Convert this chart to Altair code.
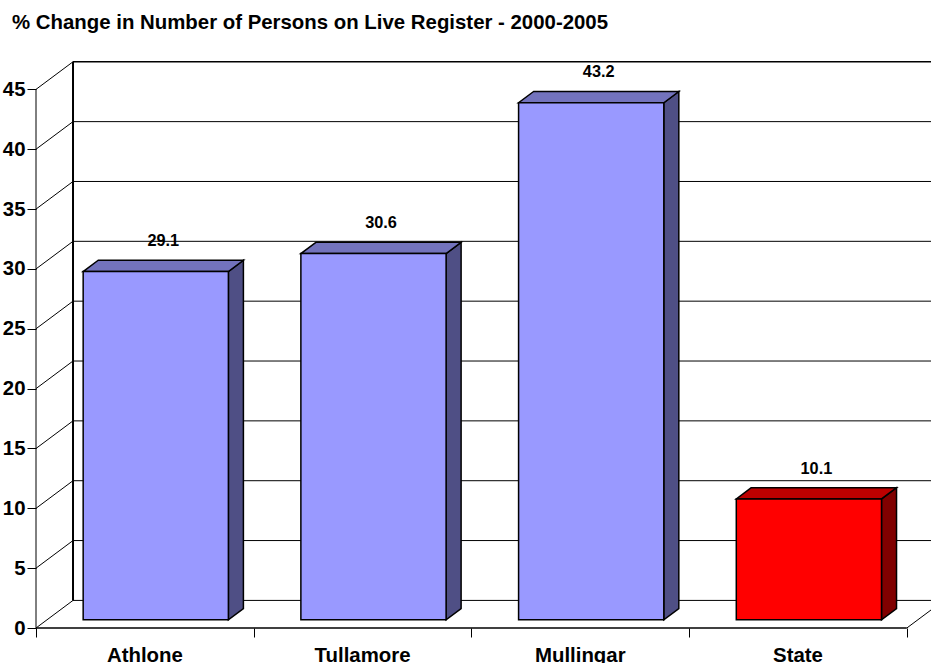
import altair as alt
import pandas as pd

# Chart values
categories = ["Athlone", "Tullamore", "Mullingar", "State"]
changes = [29.1, 30.6, 43.2, 10.1]
groups = ["Town", "Town", "Town", "State"]
y_ticks = [0, 5, 10, 15, 20, 25, 30, 35, 40, 45]
x_ticks = [0, 1, 2, 3, 4]
chart_title = "% Change in Number of Persons on Live Register - 2000-2005"

# Oblique projection of the box: depth expressed in axis units
WALL_DX, WALL_DY = 0.170, 2.305
BAR_DX, BAR_DY = 0.069, 0.944
LEAD = 0.295            # share of the floor depth in front of the bars
BAR_WIDTH = 0.667
X_MAX, Y_MAX = 4.111, 47.37
FONT = "Liberation Sans"

x_scale = alt.Scale(domain=[0, X_MAX], nice=False, zero=False)
y_scale = alt.Scale(domain=[0, Y_MAX], nice=False, zero=False)
x_axis = alt.Axis(values=x_ticks, labels=False, title=None, domain=False,
                  grid=False, tickSize=9, tickColor="black")
y_axis = alt.Axis(values=y_ticks, title=None, domain=False, grid=False,
                  tickSize=9, tickColor="black", labelPadding=2,
                  labelFont=FONT, labelFontWeight="bold", labelFontSize=20.4,
                  labelColor="black")


def X(field="x"):
    return alt.X(f"{field}:Q", scale=x_scale, stack=None, axis=x_axis)


def Y(field="y"):
    return alt.Y(f"{field}:Q", scale=y_scale, stack=None, axis=y_axis)


# Front edge of every bar, in axis units
bars = []
for i, (cat, val, grp) in enumerate(zip(categories, changes, groups)):
    x0 = i + LEAD * WALL_DX + (1 - BAR_WIDTH) / 2
    base = LEAD * WALL_DY
    bars.append(dict(cat=cat, grp=grp, val=val, x0=x0, x1=x0 + BAR_WIDTH,
                     base=base, top=base + val))

front = pd.DataFrame(bars)

side_rows, top_rows = [], []
for b in bars:
    side_rows += [
        dict(cat=b["cat"], grp=b["grp"], x=b["x1"], y=b["top"], y2=b["base"]),
        dict(cat=b["cat"], grp=b["grp"], x=b["x1"] + BAR_DX,
             y=b["top"] + BAR_DY, y2=b["base"] + BAR_DY),
    ]
    top_rows += [
        dict(cat=b["cat"], grp=b["grp"], y=b["top"], x=b["x0"], x2=b["x1"]),
        dict(cat=b["cat"], grp=b["grp"], y=b["top"] + BAR_DY,
             x=b["x0"] + BAR_DX, x2=b["x1"] + BAR_DX),
    ]
side = pd.DataFrame(side_rows)
top = pd.DataFrame(top_rows)

labels = front.assign(
    lx=front["x0"] + BAR_WIDTH / 2 + BAR_DX / 2,
    ly=front["top"] + BAR_DY,
)
names = pd.DataFrame({"cat": categories,
                      "x": [i + 0.5 for i in range(len(categories))],
                      "y": [0] * len(categories)})

ticks = pd.DataFrame({"y": y_ticks})
grid = ticks.assign(y=ticks["y"] + WALL_DY, x=WALL_DX, x2=X_MAX)
wall_links = ticks.assign(x=0, x2=WALL_DX, y2=ticks["y"] + WALL_DY)

# Back wall and floor
grid_lines = alt.Chart(grid[grid["y"] < y_ticks[-1]]).mark_rule(
    color="black", strokeWidth=1
).encode(x=X(), x2="x2:Q", y=Y())
top_line = alt.Chart(grid[grid["y"] > y_ticks[-1]]).mark_rule(
    color="black", strokeWidth=1.5
).encode(x=X(), x2="x2:Q", y=Y())
back_edge = alt.Chart(pd.DataFrame({"x": [WALL_DX], "y": [WALL_DY],
                                    "y2": [y_ticks[-1] + WALL_DY]})).mark_rule(
    color="black", strokeWidth=2
).encode(x=X(), y=Y(), y2="y2:Q")

# Side wall slants
slants = alt.Chart(wall_links).mark_rule(color="black", strokeWidth=1).encode(
    x=X(), x2="x2:Q", y=Y(), y2="y2:Q",
)
front_y = alt.Chart(pd.DataFrame({"x": [0], "y": [0], "y2": [y_ticks[-1]]})).mark_rule(
    color="black", strokeWidth=1
).encode(x=X(), y=Y(), y2="y2:Q")
front_x = alt.Chart(pd.DataFrame({"x": [0], "x2": [4], "y": [0]})).mark_rule(
    color="black", strokeWidth=1.5
).encode(x=X(), x2="x2:Q", y=Y())
right_floor = alt.Chart(pd.DataFrame({"x": [4], "x2": [4 + WALL_DX], "y": [0],
                                      "y2": [WALL_DY]})).mark_rule(
    color="black", strokeWidth=1, clip=True
).encode(x=X(), x2="x2:Q", y=Y(), y2="y2:Q")


def paint(light, dark):
    return alt.Color("grp:N", legend=None,
                     scale=alt.Scale(domain=["Town", "State"], range=[light, dark]))


side_faces = alt.Chart(side).mark_area(stroke="black", strokeWidth=1.5).encode(
    x=X(), y=Y(), y2="y2:Q", detail="cat:N", color=paint("#4F4F85", "#800000")
)
top_faces = alt.Chart(top).mark_area(
    orient="horizontal", stroke="black", strokeWidth=1.5
).encode(
    x=X(), x2="x2:Q", y=Y(), detail="cat:N", color=paint("#7373BD", "#BD0000")
)
front_faces = alt.Chart(front).mark_rect(stroke="black", strokeWidth=1.5).encode(
    x=X("x0"), x2="x1:Q", y=Y("top"), y2="base:Q", color=paint("#9999FF", "#FF0000")
)

value_text = alt.Chart(labels).mark_text(
    font=FONT, fontWeight="bold", fontSize=16.3, color="black", dy=-19
).encode(x=X("lx"), y=Y("ly"), text=alt.Text("val:Q", format=".1f"))
name_text = alt.Chart(names).mark_text(
    font=FONT, fontWeight="bold", fontSize=20.4, color="black", dy=27.5
).encode(x=X(), y=Y(), text="cat:N")

chart = alt.layer(
    slants, grid_lines, top_line, back_edge, front_y, front_x, right_floor,
    side_faces, top_faces, front_faces, value_text, name_text,
).resolve_scale(color="independent").properties(
    width=895,
    height=567,
    padding={"left": 36, "top": 61, "right": 0, "bottom": 35},
    autosize=alt.AutoSizeParams(type="none"),
    background="white",
    title=alt.TitleParams(
        chart_title, anchor="start", frame="group", dx=-24, offset=27,
        font=FONT, fontWeight="bold", fontSize=20.4, color="black",
    ),
).configure_view(stroke=None)

chart.save("out.html", embed_options={"renderer": "svg", "actions": False})
